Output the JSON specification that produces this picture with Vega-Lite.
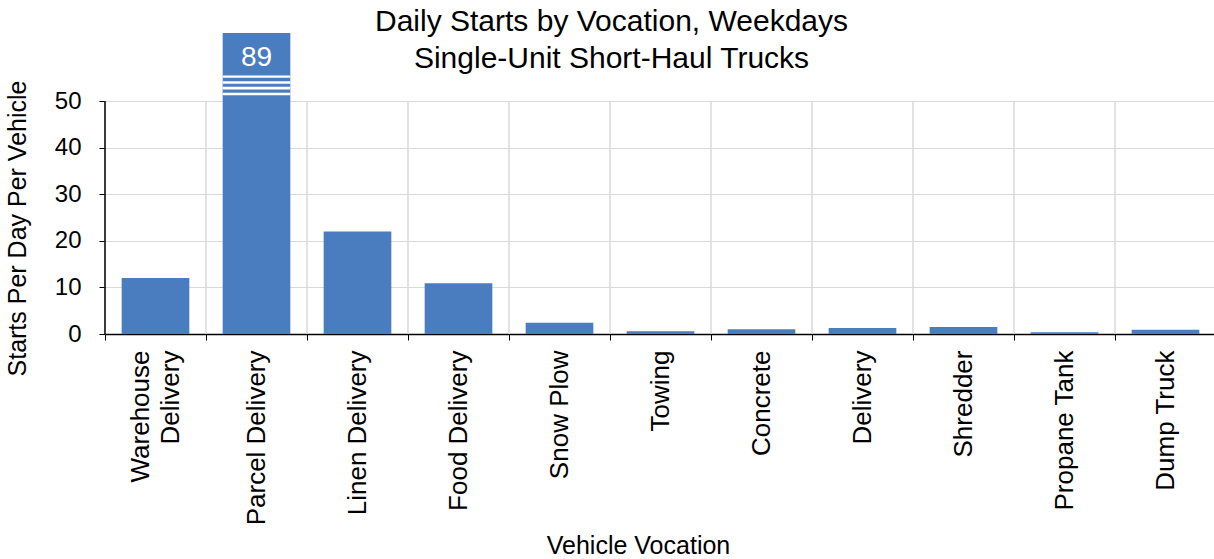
{
  "$schema": "https://vega.github.io/schema/vega-lite/v6.json",
  "width": 1111,
  "height": 301,
  "autosize": {"type": "none"},
  "padding": {"left": 105, "top": 33, "right": 0, "bottom": 225},
  "background": "white",
  "config": {"font": "Liberation Sans", "view": {"stroke": null}},
  "title": {
    "text": ["Daily Starts by Vocation, Weekdays", "Single-Unit Short-Haul Trucks"],
    "fontSize": 30,
    "lineHeight": 37,
    "fontWeight": "normal",
    "color": "#000",
    "anchor": "middle",
    "frame": "group",
    "dx": -49,
    "dy": 45
  },
  "datasets": {
    "bars": [
      {"vocation": "Warehouse Delivery", "value": 12.0},
      {"vocation": "Parcel Delivery", "value": 89},
      {"vocation": "Linen Delivery", "value": 22.0},
      {"vocation": "Food Delivery", "value": 10.9},
      {"vocation": "Snow Plow", "value": 2.4},
      {"vocation": "Towing", "value": 0.6},
      {"vocation": "Concrete", "value": 1.0},
      {"vocation": "Delivery", "value": 1.3},
      {"vocation": "Shredder", "value": 1.5},
      {"vocation": "Propane Tank", "value": 0.4},
      {"vocation": "Dump Truck", "value": 0.9}
    ],
    "breaks": [
      {"vocation": "Parcel Delivery", "lo": 51.25, "hi": 51.8},
      {"vocation": "Parcel Delivery", "lo": 52.5, "hi": 53.05},
      {"vocation": "Parcel Delivery", "lo": 53.7, "hi": 54.25},
      {"vocation": "Parcel Delivery", "lo": 55.0, "hi": 55.5}
    ]
  },
  "layer": [
    {
      "data": {"name": "bars"},
      "mark": {"type": "rule", "color": "#d9d9d9", "strokeWidth": 1},
      "encoding": {
        "x": {"field": "vocation", "type": "nominal", "sort": null, "bandPosition": 0},
        "y": {"datum": 0, "type": "quantitative"},
        "y2": {"datum": 50}
      }
    },
    {
      "data": {"name": "bars"},
      "mark": {"type": "rule", "color": "#d9d9d9", "strokeWidth": 1},
      "encoding": {
        "x": {"field": "vocation", "type": "nominal", "sort": null, "bandPosition": 1},
        "y": {"datum": 0, "type": "quantitative"},
        "y2": {"datum": 50}
      }
    },
    {
      "data": {"name": "bars"},
      "mark": {"type": "bar", "color": "#4a7dc0", "width": {"band": 0.67}},
      "encoding": {
        "x": {
          "field": "vocation",
          "type": "nominal",
          "sort": null,
          "scale": {"paddingInner": 0, "paddingOuter": 0},
          "axis": {
            "title": "Vehicle Vocation",
            "titleFontSize": 25,
            "titleFontWeight": "normal",
            "titleColor": "#000",
            "titleBaseline": "alphabetic",
            "titleY": 219,
            "titleX": 533,
            "labelAngle": -90,
            "labelFontSize": 26,
            "labelColor": "#000",
            "labelPadding": 10,
            "labelLimit": 300,
            "labelLineHeight": 30,
            "labelOffset": {"condition": {"test": "datum.value == 'Warehouse Delivery'", "value": -15}, "value": 0},
            "labelExpr": "datum.label == 'Warehouse Delivery' ? ['Warehouse', 'Delivery'] : datum.label",
            "tickBand": "extent",
            "tickColor": "#000",
            "tickSize": 6,
            "domainColor": "#000",
            "domainWidth": 1.5,
            "grid": false
          }
        },
        "y": {
          "field": "value",
          "type": "quantitative",
          "scale": {"domain": [0, 64.6], "clamp": true, "nice": false, "zero": true},
          "axis": {
            "title": "Starts Per Day Per Vehicle",
            "titleFontSize": 25,
            "titleFontWeight": "normal",
            "titleColor": "#000",
            "titlePadding": 24,
            "titleY": 195,
            "values": [0, 10, 20, 30, 40, 50],
            "labelFontSize": 24,
            "labelColor": "#000",
            "labelPadding": 18,
            "tickColor": "#000",
            "tickSize": 6,
            "domain": false,
            "grid": true,
            "gridColor": "#d9d9d9"
          }
        }
      }
    },
    {
      "data": {"name": "breaks"},
      "mark": {"type": "bar", "color": "white", "width": {"band": 0.67}},
      "encoding": {
        "x": {"field": "vocation", "type": "nominal", "sort": null},
        "y": {"field": "lo", "type": "quantitative"},
        "y2": {"field": "hi"}
      }
    },
    {
      "data": {"name": "bars"},
      "transform": [{"filter": "datum.value > 50"}],
      "mark": {"type": "text", "color": "white", "fontSize": 28, "baseline": "middle", "dy": 25},
      "encoding": {
        "x": {"field": "vocation", "type": "nominal", "sort": null},
        "y": {"field": "value", "type": "quantitative"},
        "text": {"field": "value", "type": "quantitative"}
      }
    },
    {
      "data": {"name": "bars"},
      "transform": [{"filter": "datum.vocation == 'Warehouse Delivery'"}],
      "mark": {"type": "rule", "color": "#000", "strokeWidth": 1.5},
      "encoding": {
        "x": {"field": "vocation", "type": "nominal", "sort": null, "bandPosition": 0},
        "y": {"datum": 0, "type": "quantitative"},
        "y2": {"datum": 50}
      }
    }
  ]
}
